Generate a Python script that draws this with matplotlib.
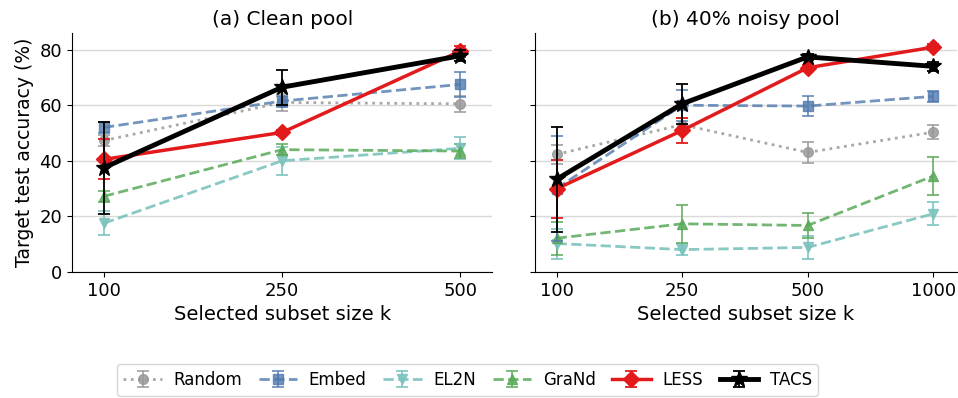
import matplotlib
matplotlib.use("Agg")
import matplotlib.pyplot as plt
import numpy as np

methods = ["Random", "Embed", "EL2N", "GraNd", "LESS", "TACS"]

clean_k = ["100", "250", "500"]
clean_mean = {
    "Random": [47.3, 61.0, 60.5],
    "Embed":  [52.0, 61.5, 67.5],
    "EL2N":   [17.5, 40.0, 44.5],
    "GraNd":  [27.2, 44.0, 43.5],
    "LESS":   [40.5, 50.2, 79.5],
    "TACS":   [37.5, 66.5, 77.8],
}
clean_err = {
    "Random": [2.0, 3.0, 3.0],
    "Embed":  [2.0, 2.0, 4.4],
    "EL2N":   [4.4, 5.0, 4.0],
    "GraNd":  [2.0, 2.0, 2.5],
    "LESS":   [7.2, 1.0, 2.0],
    "TACS":   [16.5, 6.3, 2.0],
}

noisy_k = ["100", "250", "500", "1000"]
noisy_mean = {
    "Random": [42.3, 53.0, 43.0, 50.3],
    "Embed":  [30.0, 60.0, 59.7, 63.2],
    "EL2N":   [10.2, 8.0, 8.8, 20.9],
    "GraNd":  [12.1, 17.3, 16.7, 34.5],
    "LESS":   [29.9, 50.9, 73.5, 80.9],
    "TACS":   [33.3, 60.5, 77.4, 74.0],
}
noisy_err = {
    "Random": [3.5, 2.5, 3.9, 2.5],
    "Embed":  [19.0, 5.6, 3.5, 2.0],
    "EL2N":   [5.4, 2.0, 4.0, 4.2],
    "GraNd":  [6.0, 6.8, 4.5, 6.7],
    "LESS":   [10.4, 4.5, 1.0, 1.0],
    "TACS":   [19.0, 7.1, 1.0, 1.5],
}

styles = {
    "Random": dict(color="#999999", marker="o", ls=":", lw=2.0, ms=7, alpha=0.85, z=2),
    "Embed":  dict(color="#4f79ad", marker="s", ls="--", lw=2.0, ms=7, alpha=0.8, z=3),
    "EL2N":   dict(color="#7cc3be", marker="v", ls="--", lw=2.0, ms=7, alpha=0.9, z=2),
    "GraNd":  dict(color="#5aaa5a", marker="^", ls="--", lw=2.0, ms=7, alpha=0.85, z=2),
    "LESS":   dict(color="#e31a1c", marker="D", ls="-", lw=2.5, ms=8, alpha=1.0, z=4),
    "TACS":   dict(color="#000000", marker="*", ls="-", lw=3.5, ms=12, alpha=1.0, z=5),
}

plt.rcParams["font.family"] = ["DejaVu Sans"]
plt.rcParams["font.size"] = 13

fig = plt.figure(figsize=(9.58, 3.98), dpi=100)
ax1 = fig.add_axes([0.075, 0.317, 0.439, 0.600])
ax2 = fig.add_axes([0.558, 0.317, 0.441, 0.600])

def draw(ax, ks, means, errs, title, xlim):
    x = np.arange(len(ks))
    handles = []
    for m in methods:
        s = styles[m]
        h = ax.errorbar(x, means[m], yerr=errs[m], color=s["color"], marker=s["marker"],
                        ls=s["ls"], lw=s["lw"], ms=s["ms"], alpha=s["alpha"],
                        capsize=4, elinewidth=1.3, capthick=1.3, zorder=s["z"], label=m)
        handles.append(h)
    ax.set_xticks(x)
    ax.set_xticklabels(ks)
    ax.tick_params(labelsize=13)
    ax.set_xlim(*xlim)
    ax.set_ylim(0, 86)
    ax.set_yticks([0, 20, 40, 60, 80])
    ax.yaxis.grid(True, color="#d9d9d9", lw=1.0)
    ax.set_axisbelow(True)
    ax.spines["top"].set_visible(False)
    ax.spines["right"].set_visible(False)
    ax.set_title(title, fontsize=14.5)
    ax.set_xlabel("Selected subset size k", fontsize=14)
    return handles

handles = draw(ax1, clean_k, clean_mean, clean_err, "(a) Clean pool", (-0.18, 2.18))
draw(ax2, noisy_k, noisy_mean, noisy_err, "(b) 40% noisy pool", (-0.175, 3.19))
ax1.set_ylabel("Target test accuracy (%)", fontsize=13.5)
ax2.set_yticklabels([])

fig.legend(handles, methods, loc="lower center", bbox_to_anchor=(0.488, -0.015),
           ncol=6, fontsize=12, frameon=True, handlelength=2.3, columnspacing=1.0,
           handletextpad=0.7)

fig.savefig("out.png", dpi=100)
